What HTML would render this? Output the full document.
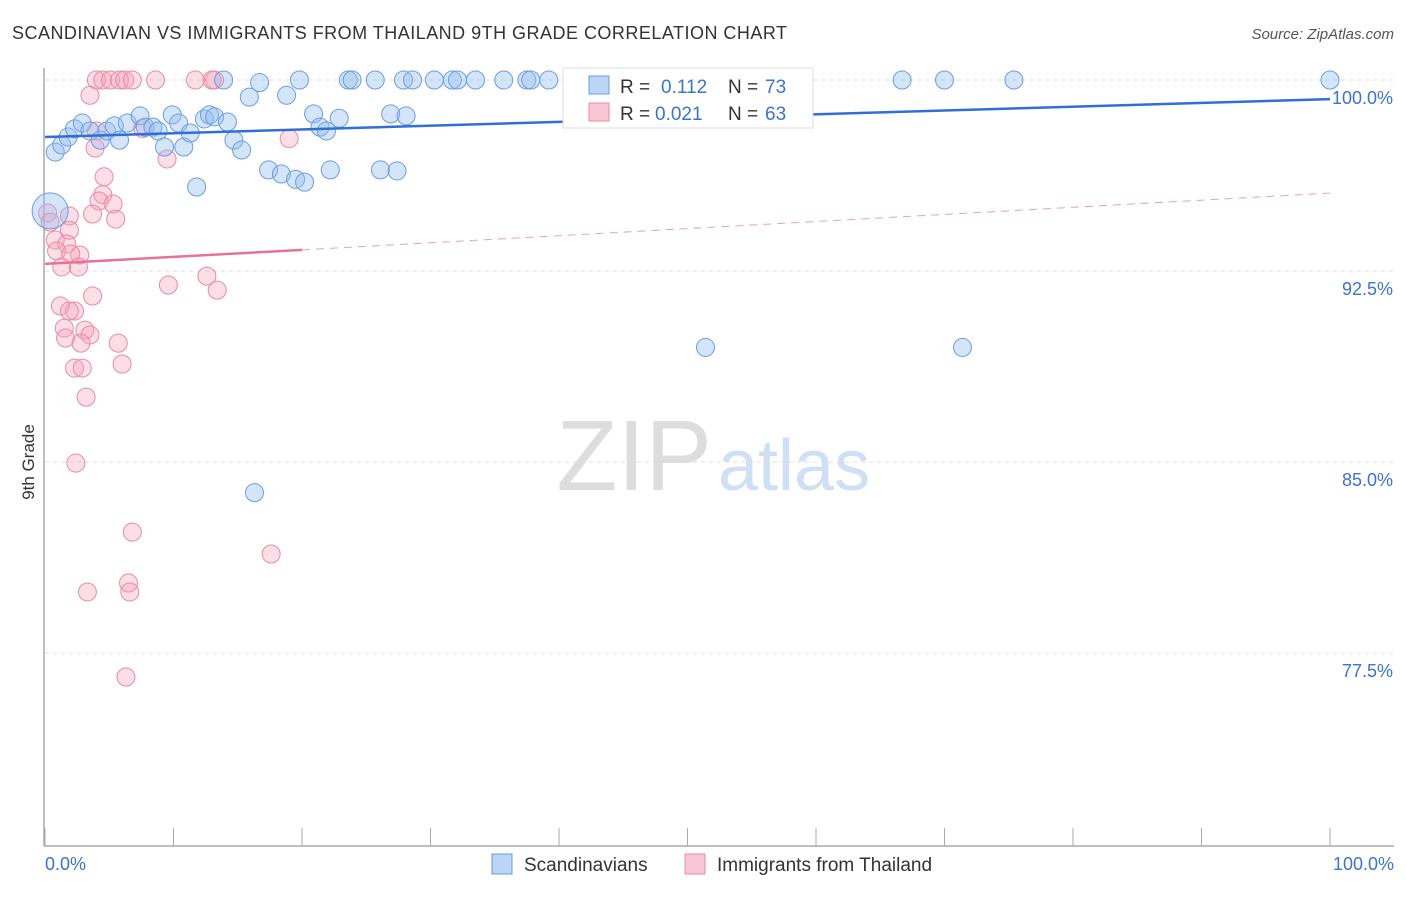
<!DOCTYPE html>
<html><head><meta charset="utf-8"><style>
body{margin:0;background:#fff;font-family:"Liberation Sans",sans-serif}
svg text{font-family:"Liberation Sans",sans-serif}
</style></head><body>
<svg width="1406" height="892" xmlns="http://www.w3.org/2000/svg">
<text x="12" y="39" font-size="18" fill="#333" textLength="775">SCANDINAVIAN VS IMMIGRANTS FROM THAILAND 9TH GRADE CORRELATION CHART</text>
<text x="1394" y="39" font-size="15" fill="#555" font-style="italic" text-anchor="end">Source: ZipAtlas.com</text>
<text x="712" y="490" font-size="100" fill="#ddd" font-family="Liberation Serif" text-anchor="end">ZIP</text>
<text x="718" y="490" font-size="72" fill="#cfe0f5">atlas</text>
<g id="grid"></g>
<g id="axes"></g>
<g id="pts"></g>
<g id="lines"></g>
<text x="34" y="462" font-size="17" fill="#333" transform="rotate(-90 34 462)" text-anchor="middle">9th Grade</text>
<g>
<rect x="563" y="68" width="250" height="60" fill="#fff" stroke="#ddd"/>
<rect x="589" y="76" width="20" height="18" fill="#bcd4f5" stroke="#6a9de0"/>
<text x="620" y="93" font-size="19" fill="#333">R = </text><text x="661" y="93" font-size="19" fill="#3b73d1">0.112</text>
<text x="728" y="93" font-size="19" fill="#333">N = </text><text x="765" y="93" font-size="19" fill="#3b73d1">73</text>
<rect x="589" y="103" width="20" height="18" fill="#f9c6d5" stroke="#e88aa7"/>
<text x="620" y="120" font-size="19" fill="#333">R = </text><text x="655" y="120" font-size="19" fill="#3b73d1">0.021</text>
<text x="728" y="120" font-size="19" fill="#333">N = </text><text x="765" y="120" font-size="19" fill="#3b73d1">63</text>
</g>
<g>
<rect x="492" y="854" width="20" height="20" fill="#bcd4f5" stroke="#6a9de0"/>
<text x="524" y="871" font-size="19" fill="#333">Scandinavians</text>
<rect x="685" y="854" width="20" height="20" fill="#f9c6d5" stroke="#e88aa7"/>
<text x="717" y="871" font-size="19" fill="#333">Immigrants from Thailand</text>
</g>
</svg>
<script>
const yTicks=[100,92.5,85,77.5];
const yTickLabels=["100.0%","92.5%","85.0%","77.5%"];
const blueX=[0.4,0.8,1.3,1.8,2.3,2.9,3.5,4.3,4.8,5.4,5.8,6.4,7.4,7.8,8.4,8.8,9.3,9.9,10.4,10.8,11.3,11.8,12.4,12.8,13.2,13.9,14.2,14.7,15.3,15.9,16.7,17.4,18.4,18.8,19.5,20.2,19.8,20.9,21.4,21.9,22.9,22.2,23.6,23.9,25.7,26.1,26.9,27.4,27.9,28.1,28.6,30.3,31.7,32.1,33.5,35.7,37.5,37.8,39.2,42.0,47.1,52.3,51.4,71.4,66.7,70.0,75.4,100,16.3];
const blueY=[94.86,97.17,97.45,97.76,98.08,98.31,98.0,97.64,98.0,98.2,97.64,98.31,98.59,98.15,98.15,98.0,97.37,98.63,98.31,97.37,97.92,95.8,98.47,98.63,98.55,100,98.35,97.64,97.25,99.33,99.9,96.47,96.31,99.4,96.1,95.99,100,98.67,98.15,98.0,98.5,96.47,100,100,100,96.47,98.67,96.43,100,98.59,100,100,100,100,100,100,100,100,100,100,100,100,89.5,89.5,100,100,100,100,83.8];
const pinkX=[4.0,4.5,5.1,5.8,6.2,6.8,8.6,11.7,13.0,13.2,3.5,4.0,3.9,7.6,9.5,19.0,4.6,4.5,4.2,5.3,3.7,5.5,1.9,0.2,0.4,1.9,0.8,1.7,0.9,2.7,2.0,1.3,2.6,9.6,12.6,13.4,3.7,1.2,2.3,1.9,1.5,3.1,3.5,1.6,2.8,5.7,2.3,2.9,6.0,3.2,2.4,6.8,17.6,6.5,3.3,6.6,6.3];
const pinkY=[100,100,100,100,100,100,100,100,100,100,99.4,98.0,97.33,98.1,96.9,97.7,96.2,95.5,95.25,95.13,94.74,94.54,94.66,94.78,94.42,94.1,93.72,93.56,93.29,93.13,93.17,92.66,92.66,91.95,92.3,91.75,91.52,91.13,90.93,90.93,90.26,90.18,89.99,89.87,89.67,89.67,88.69,88.69,88.85,87.55,84.96,82.25,81.39,80.25,79.9,79.9,76.56];
const blueTrend=[97.76,99.25];
const pinkTrend=[92.78,93.33,95.56];
const pinkSolidEnd=20;
const NS="http://www.w3.org/2000/svg";
const X=v=>45+v*12.85, Y=v=>80+(100-v)*25.47;
function mk(t,a,p){const e=document.createElementNS(NS,t);for(const k in a)e.setAttribute(k,a[k]);p.appendChild(e);return e;}
const grid=document.getElementById('grid'),axes=document.getElementById('axes'),pts=document.getElementById('pts'),lines=document.getElementById('lines');
yTicks.forEach((t,i)=>{
 const l=mk('line',{x1:45,x2:1394,y1:Y(t),y2:Y(t),stroke:'#ddd','stroke-dasharray':'4,4'},grid);
 
 
 const tx=mk('text',{x:1393,y:Y(t)+24,'font-size':18,fill:'#3b73d1','text-anchor':'end'},grid);
 tx.textContent=yTickLabels[i];
 
 
});
const ya=mk('line',{x1:44,x2:44,y1:68,y2:846,stroke:'#aaa','stroke-width':1.5},axes);


const xa=mk('line',{x1:44,x2:1394,y1:846,y2:846,stroke:'#aaa','stroke-width':1.5},axes);


for(let i=0;i<=10;i++){const t=mk('line',{x1:X(i*10),x2:X(i*10),y1:828,y2:846,stroke:'#aaa'},axes);
 
 }
[[0,'0.0%','start',45],[100,'100.0%','end',1394]].forEach(d=>{const t=mk('text',{x:d[3],y:870,'font-size':18,fill:'#3b73d1','text-anchor':d[2]},axes);t.textContent=d[1];
 
 });
pinkX.forEach((x,i)=>{const c=mk('circle',{cx:X(x),cy:Y(pinkY[i]),r:9,fill:'rgba(245,160,185,0.35)',stroke:'#e88aa7','stroke-width':1},pts);
 
 });
blueX.forEach((x,i)=>{const c=mk('circle',{cx:X(x),cy:Y(blueY[i]),r:i==0?18:9,fill:'rgba(150,190,240,0.4)',stroke:'#6a9de0','stroke-width':1},pts);
 
 });
const bl=mk('line',{x1:X(0),x2:X(100),y1:Y(blueTrend[0]),y2:Y(blueTrend[1]),stroke:'#2f6fd6','stroke-width':2.5},lines);


const pl=mk('line',{x1:X(0),x2:X(pinkSolidEnd),y1:Y(pinkTrend[0]),y2:Y(pinkTrend[1]),stroke:'#e8709a','stroke-width':2.5},lines);


const pd=mk('line',{x1:X(pinkSolidEnd),x2:X(100),y1:Y(pinkTrend[1]),y2:Y(pinkTrend[2]),stroke:'#e8a0b8','stroke-width':1,'stroke-dasharray':'8,6'},lines);


</script>
</body></html>
